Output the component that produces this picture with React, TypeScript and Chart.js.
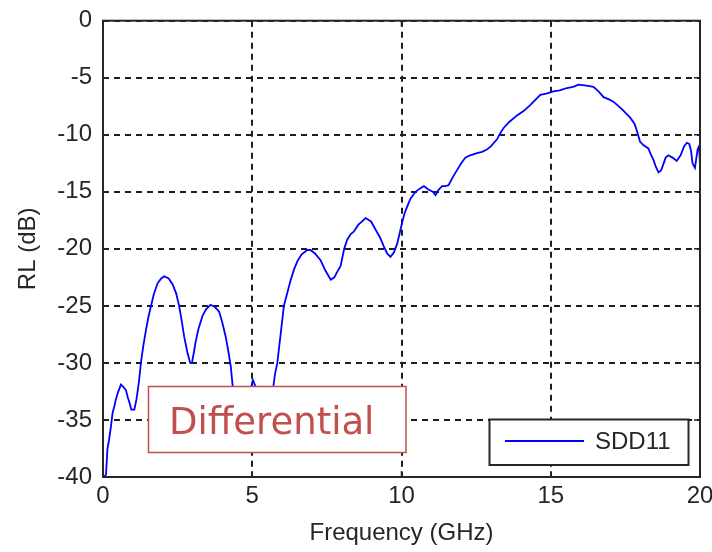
import React, { useEffect, useRef } from "react";
import { Chart, registerables } from "chart.js";

Chart.register(...registerables);

// ---- data ----
const freqGHz = [
  0.03, 0.1, 0.15, 0.2, 0.27, 0.32, 0.38, 0.43, 0.5, 0.6, 0.68, 0.77, 0.83, 0.9, 0.95, 1.05, 1.12, 1.16, 1.21, 1.27,
  1.35, 1.44, 1.52, 1.6, 1.7, 1.83, 1.95, 2.05, 2.2, 2.33, 2.45, 2.55, 2.63, 2.72, 2.82, 2.92, 2.98, 3.05, 3.1, 3.2,
  3.33, 3.45, 3.6, 3.75, 3.89, 4.0, 4.11, 4.2, 4.28, 4.34, 4.4, 4.55, 4.7, 4.85, 4.95, 5.02, 5.1, 5.2, 5.4, 5.6,
  5.7, 5.76, 5.84, 5.95, 6.06, 6.18, 6.29, 6.4, 6.51, 6.65, 6.84, 6.95, 7.1, 7.29, 7.45, 7.63, 7.75, 7.85, 7.96, 8.08,
  8.18, 8.3, 8.4, 8.55, 8.8, 8.98, 9.13, 9.28, 9.41, 9.52, 9.63, 9.75, 9.86, 9.95, 10.02, 10.1, 10.19, 10.3, 10.47, 10.62,
  10.75, 10.9, 11.05, 11.14, 11.25, 11.36, 11.48, 11.58, 11.7, 11.86, 12.0, 12.14, 12.3, 12.53, 12.7, 12.86, 13.0, 13.2, 13.3, 13.42,
  13.6, 13.87, 14.1, 14.31, 14.5, 14.65, 14.85, 15.09, 15.3, 15.54, 15.75, 15.93, 16.2, 16.43, 16.6, 16.77, 16.95, 17.1, 17.4, 17.66,
  17.8, 17.88, 17.99, 18.1, 18.27, 18.35, 18.44, 18.52, 18.61, 18.7, 18.77, 18.85, 18.94, 19.08, 19.22, 19.35, 19.47, 19.56, 19.64, 19.7,
  19.75, 19.83, 19.88, 19.92, 19.97, 20.0,
];
const sdd11Db = [
  -40.0, -39.8, -37.5, -36.8, -35.5, -34.4, -33.8, -33.2, -32.6, -31.9, -32.1, -32.4, -33.0, -33.6, -34.1, -34.1, -33.2, -32.5, -31.5, -30.0,
  -28.5, -27.1, -26.0, -25.1, -24.0, -23.0, -22.6, -22.4, -22.6, -23.1, -23.9, -25.0, -26.2, -27.7, -29.0, -30.0, -30.0, -29.0, -28.2, -27.0,
  -25.9, -25.3, -24.9, -25.1, -25.5, -26.5, -27.7, -29.0, -30.3, -31.9, -33.0, -35.0, -35.8, -34.0, -32.3, -31.5, -32.0, -32.6, -33.5, -33.0,
  -32.2, -31.0, -30.0, -27.5, -25.0, -23.8, -22.7, -21.8, -21.1, -20.5, -20.1, -20.1, -20.4, -21.0, -21.9, -22.7, -22.5, -22.0, -21.5, -20.0,
  -19.2, -18.7, -18.5, -17.9, -17.3, -17.6, -18.3, -19.0, -19.8, -20.4, -20.7, -20.3, -19.5, -18.5, -17.7, -16.9, -16.3, -15.6, -15.0, -14.7,
  -14.5, -14.8, -15.0, -15.3, -14.8, -14.5, -14.5, -14.4, -13.8, -13.1, -12.5, -12.0, -11.8, -11.6, -11.5, -11.3, -11.0, -10.4, -9.9, -9.4,
  -8.9, -8.3, -7.9, -7.4, -6.9, -6.5, -6.4, -6.2, -6.1, -5.9, -5.8, -5.6, -5.7, -5.8, -6.2, -6.7, -6.9, -7.1, -7.8, -8.5,
  -9.0, -9.6, -10.6, -10.9, -11.2, -11.7, -12.2, -12.8, -13.3, -13.1, -12.6, -12.0, -11.8, -12.0, -12.3, -11.8, -11.0, -10.7, -10.8, -11.4,
  -12.5, -12.9, -12.0, -11.3, -11.0, -12.7,
];
const xTicks = [0, 5, 10, 15, 20];
const yTicks = [0, -5, -10, -15, -20, -25, -30, -35, -40];
const seriesLabel = "SDD11";
const xTitle = "Frequency (GHz)";
const yTitle = "RL (dB)";
const annotationText = "Differential";

const AXIS_FONT = { family: "'Liberation Sans', Arial, sans-serif", size: 24, lineHeight: 1 };
const INK = "#262626";
const GRID = "#1e1e1e";
const LINE_BLUE = "#0000ff";
const RED = "#c0504d";

const framePlugin = {
  id: "matlabFrame",
  afterDatasetsDraw(chart: any) {
    const { ctx, chartArea: a, scales } = chart;
    const xs = scales.x;
    const ys = scales.y;
    ctx.save();

    // annotation box ("Differential")
    ctx.fillStyle = "#ffffff";
    ctx.fillRect(148.5, 386.5, 257.5, 66);
    ctx.strokeStyle = RED;
    ctx.lineWidth = 1.5;
    ctx.strokeRect(148.5, 386.5, 257.5, 66);
    ctx.fillStyle = RED;
    ctx.font = "37px 'DejaVu Sans', Verdana, sans-serif";
    ctx.textAlign = "left";
    ctx.textBaseline = "alphabetic";
    ctx.fillText(annotationText, 169, 434);

    // frame
    ctx.strokeStyle = INK;
    ctx.lineWidth = 2;
    ctx.strokeRect(a.left, a.top, a.right - a.left, a.bottom - a.top);

    // inward tick marks on all four sides
    const tl = 6;
    ctx.lineWidth = 1.5;
    ctx.beginPath();
    xTicks.forEach((v) => {
      const px = xs.getPixelForValue(v);
      ctx.moveTo(px, a.bottom);
      ctx.lineTo(px, a.bottom - tl);
      ctx.moveTo(px, a.top);
      ctx.lineTo(px, a.top + tl);
    });
    yTicks.forEach((v) => {
      const py = ys.getPixelForValue(v);
      ctx.moveTo(a.left, py);
      ctx.lineTo(a.left + tl, py);
      ctx.moveTo(a.right, py);
      ctx.lineTo(a.right - tl, py);
    });
    ctx.stroke();

    // legend box
    const ds = chart.data.datasets[0];
    ctx.fillStyle = "#ffffff";
    ctx.fillRect(489.5, 419.5, 199, 45.5);
    ctx.strokeStyle = INK;
    ctx.lineWidth = 2;
    ctx.strokeRect(489.5, 419.5, 199, 45.5);
    ctx.strokeStyle = ds.borderColor;
    ctx.lineWidth = 2;
    ctx.beginPath();
    ctx.moveTo(505, 441);
    ctx.lineTo(584, 441);
    ctx.stroke();
    ctx.fillStyle = INK;
    ctx.font = "24px 'Liberation Sans', Arial, sans-serif";
    ctx.textBaseline = "middle";
    ctx.fillText(ds.label, 595, 442);

    ctx.restore();
  },
};

export default function App() {
  const canvasRef = useRef<HTMLCanvasElement | null>(null);

  useEffect(() => {
    const canvas = canvasRef.current;
    if (!canvas) return;
    const points = freqGHz.map((f, i) => ({ x: f, y: sdd11Db[i] }));
    const chart = new Chart(canvas, {
      type: "line",
      data: {
        datasets: [
          {
            label: seriesLabel,
            data: points,
            borderColor: LINE_BLUE,
            borderWidth: 1.8,
            pointRadius: 0,
            tension: 0,
            fill: false,
          },
        ],
      },
      options: {
        animation: false,
        responsive: false,
        devicePixelRatio: 1,
        events: [],
        layout: { padding: { top: 20.7, right: 12, bottom: 0, left: 0 } },
        plugins: {
          legend: { display: false },
          tooltip: { enabled: false },
        },
        scales: {
          x: {
            type: "linear",
            min: 0,
            max: 20,
            afterBuildTicks: (s: any) => {
              s.ticks = xTicks.map((v) => ({ value: v }));
            },
            ticks: { font: AXIS_FONT, color: INK, padding: 7, maxRotation: 0, autoSkip: false },
            grid: { color: GRID, lineWidth: 2, drawTicks: false },
            border: { display: false, dash: [6, 5] },
            title: { display: true, text: xTitle, font: AXIS_FONT, color: INK, padding: { top: 0, bottom: 7 } },
            afterFit: (s: any) => {
              s.height = 75;
              s.paddingLeft = 0;
              s.paddingRight = 0;
            },
          },
          y: {
            type: "linear",
            min: -40,
            max: 0,
            afterBuildTicks: (s: any) => {
              s.ticks = yTicks.map((v) => ({ value: v }));
            },
            ticks: { font: AXIS_FONT, color: INK, padding: 11, autoSkip: false },
            grid: { color: GRID, lineWidth: 2, drawTicks: false },
            border: { display: false, dash: [6, 5] },
            title: { display: true, text: yTitle, font: AXIS_FONT, color: INK, padding: { top: 16, bottom: 0 } },
            afterFit: (s: any) => {
              s.width = 103;
              s.paddingTop = 0;
              s.paddingBottom = 0;
            },
          },
        },
      },
      plugins: [framePlugin],
    });
    return () => chart.destroy();
  }, []);

  return (
    <div style={{ position: "absolute", left: 0, top: 0, width: 712, height: 552, background: "#ffffff" }}>
      <canvas ref={canvasRef} width={712} height={552} style={{ display: "block", width: 712, height: 552 }} />
    </div>
  );
}
